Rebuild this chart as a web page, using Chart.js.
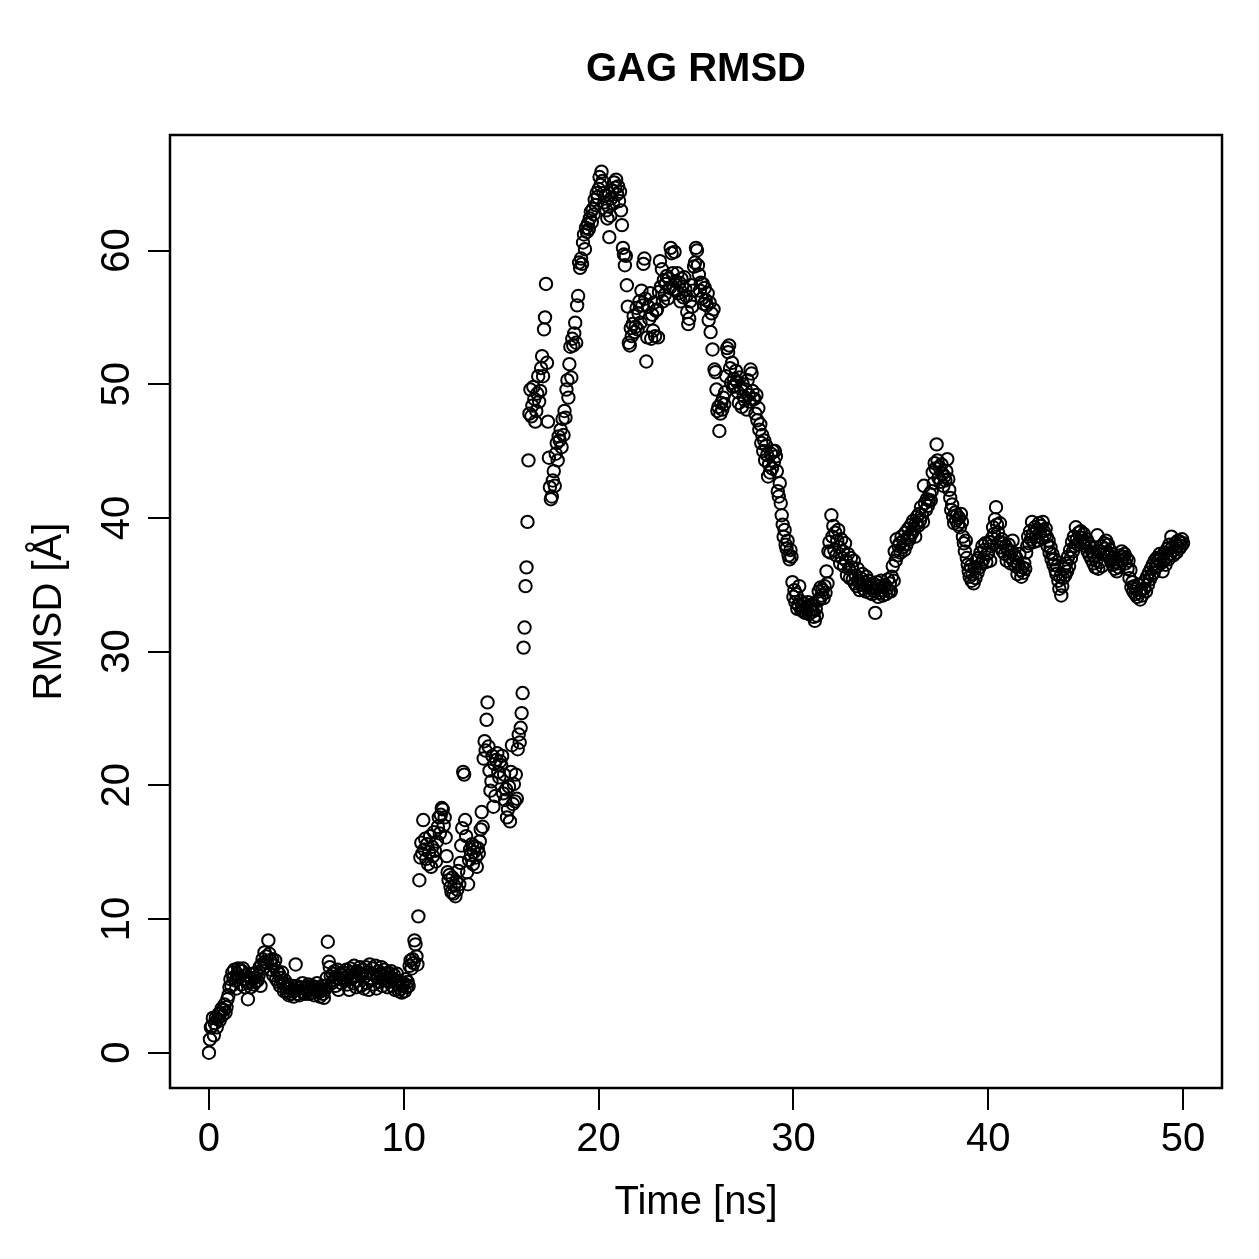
<!DOCTYPE html>
<html>
<head>
<meta charset="utf-8">
<title>GAG RMSD</title>
<script src="https://cdn.jsdelivr.net/npm/chart.js@4.4.1/dist/chart.umd.min.js"></script>
<style>
  html, body { margin: 0; padding: 0; background: #ffffff; }
</style>
</head>
<body>
<canvas id="rmsdChart" width="1259" height="1259"></canvas>
<script>
// textos
const chartTitle = 'GAG RMSD';
const xTitle = 'Time [ns]';
const yTitle = 'RMSD [Å]';

// marcas de los ejes
const timeTicks = [0, 10, 20, 30, 40, 50];
const rmsdTicks = [0, 10, 20, 30, 40, 50, 60];

// un frame cada 0.05 ns
const frameStepNs = 0.05;

// RMSD (Å), 20 frames por ns
const rmsd0to10 = [
  0, 1.0, 1.9, 2.0, 2.6, 1.3, 2.2, 2.6, 1.9, 2.5, 2.9, 2.4, 3.0, 3.3, 2.8, 3.2, 3.6, 3.0, 3.4, 4.0,
  4.3, 4.9, 5.5, 5.0, 6.0, 5.6, 6.2, 5.4, 4.8, 5.9, 6.3, 5.7, 6.2, 5.1, 6.1, 6.3, 5.5, 4.9, 5.8, 5.3,
  4.0, 5.2, 5.6, 4.9, 5.5, 5.9, 5.1, 5.6, 5.3, 6.0, 5.4, 5.8, 6.4, 5.0, 6.6, 7.0, 6.3, 7.5, 6.8, 7.2,
  6.7, 8.4, 7.4, 6.9, 6.2, 7.0, 5.8, 6.5, 6.9, 5.5, 6.1, 5.3, 5.9, 5.0, 5.6, 6.0, 5.2, 4.6, 5.4, 4.9,
  4.5, 5.1, 4.3, 4.8, 4.4, 5.0, 4.6, 4.2, 4.7, 6.6, 5.0, 4.4, 4.8, 4.3, 4.9, 4.6, 5.2, 4.5, 4.8, 4.4,
  4.9, 4.6, 5.1, 4.4, 4.8, 4.5, 5.0, 4.7, 4.3, 4.9, 4.6, 5.2, 4.5, 4.8, 4.2, 4.6, 5.0, 4.4, 4.1, 4.7,
  5.0, 5.6, 8.3, 6.8, 6.4, 5.7, 5.2, 5.9, 5.4, 6.1, 5.0, 5.6, 6.2, 4.7, 5.5, 5.9, 5.2, 5.8, 6.0, 5.4,
  5.6, 6.2, 5.1, 5.8, 4.7, 6.3, 5.5, 6.0, 5.2, 6.5, 5.7, 4.9, 6.1, 5.4, 5.9, 6.4, 5.0, 5.8, 6.2, 4.8,
  5.7, 6.4, 5.2, 6.0, 4.7, 6.6, 5.5, 5.9, 6.3, 5.1, 5.8, 6.5, 4.8, 5.6, 6.1, 5.3, 5.9, 6.4, 5.0, 5.7,
  6.2, 5.4, 5.9, 4.9, 6.0, 5.3, 5.7, 6.1, 5.0, 5.5, 5.8, 4.7, 5.4, 5.9, 5.1, 4.6, 5.3, 4.8, 4.5, 5.0
];
const rmsd10to20 = [
  5.2, 4.6, 5.5, 4.9, 5.3, 5.0, 6.5, 6.9, 6.3, 7.0, 6.7, 8.4, 8.1, 7.2, 6.6, 10.2, 12.9, 14.6, 15.7, 14.9,
  17.4, 15.2, 16.0, 14.5, 15.6, 14.1, 15.0, 16.2, 13.9, 15.4, 14.7, 16.5, 15.1, 14.3, 15.8, 16.9, 17.6, 16.4, 17.8, 18.3,
  18.2, 17.0, 17.6, 16.1, 14.7, 13.5, 12.9, 13.3, 12.4, 12.0, 13.1, 11.9, 12.5, 11.7, 12.8, 12.2, 13.6, 12.6, 14.2, 15.5,
  16.8, 21.0, 20.8, 17.4, 16.2, 13.5, 12.6, 14.4, 15.2, 14.8, 15.6, 14.1, 15.0, 15.4, 14.6, 13.9, 15.3, 14.9, 15.8, 16.7,
  18.0, 16.9, 22.0, 23.3, 22.6, 24.9, 26.2, 22.9, 21.1, 19.6, 20.3, 22.2, 18.4, 21.6, 19.2, 21.9, 22.4, 21.0, 20.6, 21.8,
  21.5, 22.2, 19.4, 20.8, 18.9, 19.7, 17.6, 18.2, 19.9, 17.3, 21.0, 23.0, 18.6, 20.1, 18.8, 20.8, 19.0, 22.7, 23.8, 23.2,
  24.3, 25.4, 26.9, 30.3, 31.8, 34.9, 36.3, 39.7, 44.3, 47.8, 49.6, 47.6, 48.4, 49.8, 48.9, 47.2, 48.0, 49.3, 50.6, 48.7,
  49.5, 51.2, 52.1, 50.6, 54.1, 55.0, 57.5, 51.6, 47.2, 44.5, 42.3, 41.4, 41.6, 42.8, 43.5, 42.4, 44.8, 45.6, 44.3, 46.1,
  45.8, 46.6, 45.3, 47.4, 46.2, 48.0, 47.5, 49.6, 50.3, 49.0, 51.5, 52.8, 50.5, 53.4, 52.9, 53.8, 54.6, 53.1, 55.9, 56.6,
  59.1, 58.7, 59.4, 59.0, 60.6, 61.2, 60.1, 61.7, 61.4, 62.0, 61.6, 62.4, 62.9, 62.1, 63.1, 62.7, 63.8, 63.4, 64.3, 64.0
];
const rmsd20to30 = [
  64.6, 65.5, 64.9, 65.9, 65.2, 64.3, 63.6, 64.1, 63.0, 62.4, 63.3, 61.0, 62.6, 63.9, 64.5, 63.5, 65.1, 64.7, 65.3, 64.2,
  64.8, 63.7, 64.4, 63.0, 61.9, 60.2, 59.7, 58.9, 59.6, 57.4, 55.8, 53.1, 52.9, 54.2, 53.6, 54.5, 55.1, 53.9, 54.3, 55.7,
  54.1, 55.3, 56.2, 54.6, 57.0, 55.9, 59.0, 59.4, 56.4, 51.7, 53.5, 55.8, 54.9, 56.8, 53.4, 55.2, 54.0, 56.1, 53.6, 55.5,
  55.6, 53.5, 56.9, 59.2, 57.3, 58.6, 56.2, 57.8, 56.7, 57.5, 58.1, 56.4, 57.9, 57.2, 60.2, 59.8, 58.3, 57.1, 59.9, 57.7,
  57.0, 58.3, 56.8, 57.6, 56.2, 57.9, 57.3, 56.5, 58.0, 57.1, 56.6, 55.4, 54.5, 54.9, 56.2, 57.4, 55.8, 57.0, 58.8, 59.1,
  60.2, 60.0, 58.9, 58.2, 57.0, 57.6, 56.4, 57.5, 56.0, 57.2, 56.3, 55.9, 56.8, 54.8, 56.1, 53.9, 55.3, 52.6, 55.6, 51.1,
  50.9, 49.6, 48.0, 48.3, 46.5, 47.8, 48.6, 48.1, 49.0, 48.5, 49.4, 50.6, 52.7, 52.4, 52.9, 51.2, 50.1, 51.6, 49.8, 50.4,
  49.9, 51.0, 50.2, 49.4, 48.6, 50.5, 49.7, 48.3, 50.0, 49.1, 48.8, 49.6, 48.1, 50.3, 49.2, 48.7, 51.1, 50.8, 49.5, 48.9,
  48.9, 47.8, 49.2, 47.3, 48.2, 46.6, 47.0, 45.6, 46.2, 45.0, 45.8, 44.3, 45.4, 44.7, 43.1, 44.0, 43.4, 44.8, 43.7, 45.0,
  44.2, 45.0, 44.6, 43.5, 42.0, 41.6, 42.6, 41.1, 40.2, 39.5, 38.6, 39.1, 38.0, 37.7, 38.3, 37.2, 36.9, 37.6, 37.1, 35.2
];
const rmsd30to40 = [
  34.1, 34.6, 33.7, 34.3, 33.2, 33.5, 34.9, 33.8, 33.1, 33.4, 33.0, 33.6, 32.9, 33.3, 33.1, 33.7, 32.8, 33.4, 33.0, 33.5,
  33.0, 32.6, 32.3, 33.2, 32.7, 33.8, 34.5, 33.9, 34.8, 34.2, 34.6, 34.0, 34.9, 34.4, 36.0, 35.1, 37.5, 38.2, 37.4, 40.2,
  38.6, 39.4, 37.6, 38.9, 37.2, 38.3, 39.1, 37.8, 36.6, 38.4, 37.0, 37.5, 36.4, 38.1, 36.8, 35.7, 37.3, 36.2, 35.5, 37.0,
  36.3, 35.4, 36.8, 35.1, 35.7, 34.9, 36.2, 35.3, 34.6, 35.5, 35.0, 35.8, 34.7, 35.2, 34.5, 35.6, 34.9, 35.3, 34.4, 35.0,
  34.8, 34.3, 35.1, 34.5, 32.9, 34.7, 35.2, 34.1, 34.9, 34.4, 35.3, 34.6, 34.2, 34.8, 35.0, 34.3, 34.7, 35.4, 34.5, 35.1,
  34.5, 35.6, 36.4, 35.3, 37.5, 36.8, 38.4, 37.2, 37.9, 38.1, 37.4, 38.6, 37.8, 38.3, 37.6, 38.9, 38.0, 38.5, 39.2, 38.4,
  38.7, 39.5, 38.9, 39.8, 39.2, 38.6, 39.6, 40.1, 39.4, 40.3, 39.8, 40.8, 40.2, 39.7, 42.4, 41.1, 40.6, 41.4, 40.9, 41.3,
  41.8, 41.3, 42.0, 43.4, 42.6, 44.1, 43.7, 45.5, 44.3, 43.0, 43.8, 42.7, 44.0, 43.3, 42.4, 43.1, 42.8, 43.5, 44.4, 42.9,
  42.1, 41.5, 40.6, 41.0, 40.1, 39.6, 40.4, 39.8, 40.2, 39.5, 40.0, 39.3, 40.3, 39.7, 38.6, 38.1, 37.5, 38.3, 37.0, 36.5,
  36.0, 35.6, 36.4, 35.3, 35.8, 35.1, 36.2, 35.5, 36.8, 35.9, 37.0, 36.3, 37.4, 36.6, 37.9, 36.9, 37.6, 38.1, 36.7, 37.3
];
const rmsd40to50 = [
  37.4, 38.2, 36.8, 37.9, 38.5, 39.3, 38.8, 39.9, 40.8, 39.5, 38.9, 38.2, 39.6, 37.8, 38.4, 37.5, 38.1, 37.3, 37.9, 36.8,
  37.6, 38.0, 37.1, 36.6, 37.5, 38.3, 36.8, 37.2, 36.4, 37.0, 35.8, 36.5, 37.3, 36.1, 35.6, 36.3, 35.9, 36.6, 36.2, 37.4,
  37.9, 38.6, 38.1, 39.0, 38.4, 39.7, 38.8, 38.2, 39.3, 38.6, 39.1, 38.3, 39.6, 38.9, 39.4, 38.5, 39.7, 39.0, 38.7, 39.2,
  38.6, 37.9, 38.3, 37.4, 37.8, 36.9, 37.3, 36.5, 36.9, 36.1, 35.8, 36.4, 35.3, 34.7, 35.6, 34.2, 34.9, 35.5, 36.2, 35.7,
  36.6, 36.0, 37.1, 36.4, 37.6, 37.0, 38.2, 37.5, 38.6, 37.9, 39.3, 38.4, 38.0, 38.9, 38.3, 39.0, 38.5, 38.1, 38.8, 38.2,
  37.9, 38.4, 37.5, 38.1, 37.2, 37.8, 36.9, 37.4, 36.6, 37.1, 36.3, 36.8, 38.7, 36.2, 37.5, 36.7, 37.9, 36.4, 37.3, 38.1,
  37.7, 38.3, 37.4, 38.0, 37.1, 37.6, 36.8, 37.3, 36.5, 37.0, 36.2, 36.7, 36.0, 36.6, 36.3, 37.2, 36.8, 37.5, 36.9, 37.1,
  37.3, 36.6, 37.0, 36.2, 36.8, 35.5, 36.1, 34.8, 35.2, 34.5, 34.9, 34.3, 34.7, 34.1, 35.0, 34.4, 33.9, 34.6, 34.2, 35.1,
  34.7, 35.3, 34.5, 35.6, 35.0, 35.9, 35.4, 36.2, 35.7, 36.5, 35.9, 36.8, 36.3, 37.0, 36.4, 36.9, 37.3, 36.6, 37.1, 36.0,
  36.8, 37.4, 36.5, 37.1, 37.7, 36.9, 38.0, 37.3, 38.6, 37.8, 37.2, 37.6, 38.1, 37.4, 37.9, 38.3, 37.7, 38.2, 37.9, 38.4,
  38.1
];

const rmsd = [].concat(rmsd0to10, rmsd10to20, rmsd20to30, rmsd30to40, rmsd40to50);
// frame -> tiempo en ns
const puntos = rmsd.map(function (v, i) {
    return { x: Math.round(i * frameStepNs * 100) / 100, y: v };
});

var FUENTE = '"Liberation Sans", Arial, Helvetica, sans-serif';

// titulo, caja, etiquetas del eje y (rotadas como en R) y titulos de ejes
var plotR = {
    id: 'plotR',
    afterDraw: function (chart) {
        var ctx = chart.ctx;
        var area = chart.chartArea;
        var yScale = chart.scales.y;
        var cx = (area.left + area.right) / 2;

        ctx.save();
        ctx.strokeStyle = '#000';
        ctx.lineWidth = 2.5;
        ctx.strokeRect(area.left, area.top, area.right - area.left, area.bottom - area.top);

        ctx.fillStyle = '#000';
        ctx.textAlign = 'center';
        ctx.textBaseline = 'middle';

        // titulo principal, centrado sobre la caja
        ctx.font = 'bold 40px ' + FUENTE;
        ctx.fillText(chartTitle, cx, area.top - 65);

        ctx.font = '40px ' + FUENTE;
        rmsdTicks.forEach(function (v) {
            var py = yScale.getPixelForValue(v);
            ctx.save();
            ctx.translate(area.left - 52, py);
            ctx.rotate(-Math.PI / 2);
            ctx.fillText(String(v), 0, 0);
            ctx.restore();
        });

        // titulo eje x
        ctx.fillText(xTitle, cx, area.bottom + 115);

        // titulo eje y
        ctx.save();
        ctx.translate(area.left - 120, (area.top + area.bottom) / 2);
        ctx.rotate(-Math.PI / 2);
        ctx.fillText(yTitle, 0, 0);
        ctx.restore();
        ctx.restore();
    }
};

var ctx = document.getElementById('rmsdChart').getContext('2d');
window.myChart = new Chart(ctx, {
    type: 'scatter',
    data: {
        datasets: [{
            label: 'RMSD',
            data: puntos,
            pointStyle: 'circle',
            pointRadius: 6.2,
            pointHoverRadius: 6.2,
            borderWidth: 2,
            borderColor: '#000',
            backgroundColor: 'rgba(0,0,0,0)'
        }]
    },
    options: {
        responsive: false,
        animation: false,
        events: [],
        layout: { padding: { left: 0, right: 37, top: 135, bottom: 0 } },
        plugins: {
            legend: { display: false },
            tooltip: { enabled: false },
            title: { display: false }
        },
        scales: {
            x: {
                type: 'linear',
                min: -2,
                max: 52,
                afterBuildTicks: function (scale) {
                    scale.ticks = timeTicks.map(function (v) { return { value: v }; });
                },
                afterFit: function (scale) { scale.height = 171; },
                border: { display: false },
                grid: { drawOnChartArea: false, drawTicks: true, tickLength: 22, color: '#000', lineWidth: 2 },
                ticks: {
                    color: '#000',
                    padding: 6,
                    maxRotation: 0,
                    minRotation: 0,
                    autoSkip: false,
                    font: { family: FUENTE, size: 40 }
                }
            },
            y: {
                type: 'linear',
                min: -2.64,
                max: 68.64,
                afterBuildTicks: function (scale) {
                    scale.ticks = rmsdTicks.map(function (v) { return { value: v }; });
                },
                afterFit: function (scale) { scale.width = 170; },
                border: { display: false },
                grid: { drawOnChartArea: false, drawTicks: true, tickLength: 22, color: '#000', lineWidth: 2 },
                ticks: { display: false }
            }
        }
    },
    plugins: [plotR]
});
</script>
</body>
</html>
